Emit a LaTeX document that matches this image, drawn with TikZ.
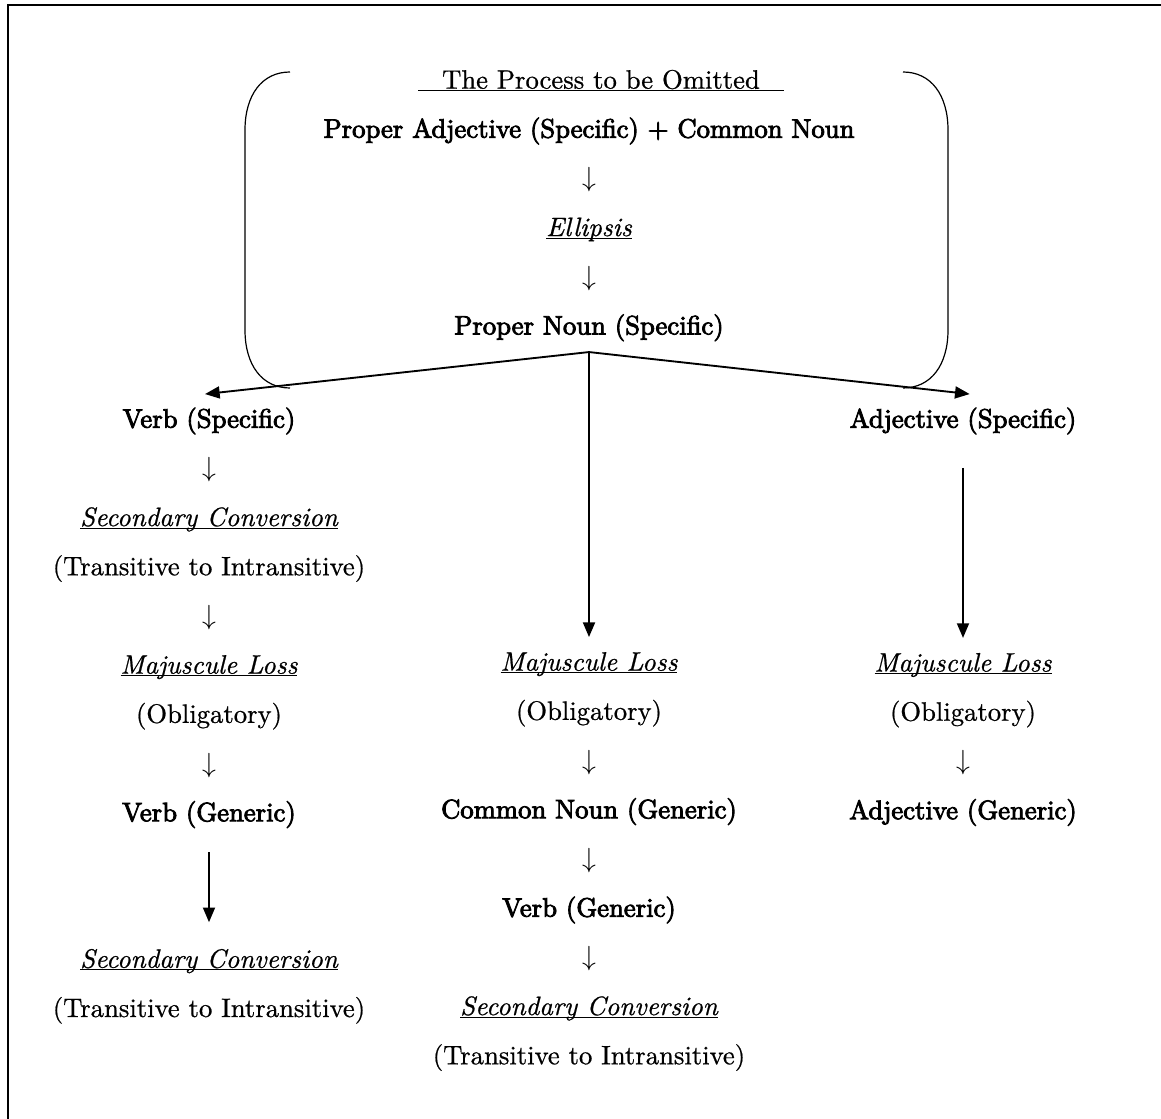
\documentclass[tikz,border=0pt]{standalone}
\usepackage{fontspec}
\usepackage{tikz}
\usetikzlibrary{arrows.meta}
\usetikzlibrary{positioning}
\setmainfont{lmroman10-regular.otf}[ItalicFont=lmroman10-italic.otf, RawFeature={embolden=0.7}]
\newfontface\fakebf{lmroman10-regular.otf}[FakeBold=3.2]
\newcommand{\procline}[1]{\underline{\smash{#1}}}

\begin{document}
\begin{tikzpicture}[x=0.75pt, y=-0.75pt, node distance=16.5pt,
    txt/.style={inner sep=0pt, text height=15pt, text depth=5pt, font=\fontsize{20}{24}\selectfont},
    head/.style={txt, font=\fontsize{20}{24}\selectfont\fakebf},
    proc/.style={txt, font=\fontsize{20}{24}\selectfont\itshape},
    longarrow/.style={line width=1.4pt, -{Triangle[length=11pt, width=9pt]}},
    brace/.style={line width=0.9pt}]
    \useasboundingbox (0,0) rectangle (1161,1119);
    \draw[line width=1.5pt] (8,1119) -- (8,5) -- (1161,5); % frame

    % the omitted process
    \node[txt] (title) at (601,82) {\procline{\hspace{0.9em}The Process to be Omitted\hspace{0.9em}}};
    \node[head] (pa) at (589,131) {Proper Adjective (Specific) + Common Noun};
    \node[txt, below=of pa] (d1) {$\downarrow$};
    \node[proc, below=of d1] (ell) {\procline{Ellipsis}};
    \node[txt, below=of ell] (d2) {$\downarrow$};
    \node[head, below=of d2] (pn) {Proper Noun (Specific)};
    \draw[brace] (290,72) .. controls (262,72) and (245,95) .. (245,130) -- (245,330)
        .. controls (245,365) and (262,388) .. (290,388);
    \draw[brace] (903,72) .. controls (931,72) and (948,95) .. (948,130) -- (948,330)
        .. controls (948,365) and (931,388) .. (903,388);

    % verb branch
    \node[head] (vs) at (209,421) {Verb (Specific)};
    \node[txt, below=of vs] (l1) {$\downarrow$};
    \node[proc, below=of l1] (lsc) {\procline{Secondary Conversion}};
    \node[txt, below=of lsc] (lti) {(Transitive to Intransitive)};
    \node[txt, below=of lti] (l2) {$\downarrow$};
    \node[proc, below=of l2] (lml) {\procline{Majuscule Loss}};
    \node[txt, below=of lml] (lob) {(Obligatory)};
    \node[txt, below=of lob] (l3) {$\downarrow$};
    \node[head, below=of l3] (lvg) {Verb (Generic)};
    \node[proc, below=89.5pt of lvg] (lsc2) {\procline{Secondary Conversion}};
    \node[txt, below=of lsc2] (lti2) {(Transitive to Intransitive)};

    % noun branch
    \node[proc] (mml) at (589,664) {\procline{Majuscule Loss}};
    \node[txt, below=of mml] (mob) {(Obligatory)};
    \node[txt, below=of mob] (m1) {$\downarrow$};
    \node[head, below=of m1] (mcn) {Common Noun (Generic)};
    \node[txt, below=of mcn] (m2) {$\downarrow$};
    \node[head, below=of m2] (mvg) {Verb (Generic)};
    \node[txt, below=of mvg] (m3) {$\downarrow$};
    \node[proc, below=of m3] (msc) {\procline{Secondary Conversion}};
    \node[txt, below=of msc] (mti) {(Transitive to Intransitive)};

    % adjective branch
    \node[head] (as) at (963,421) {Adjective (Specific)};
    \node[proc, below=162.5pt of as] (rml) {\procline{Majuscule Loss}};
    \node[txt, below=of rml] (rob) {(Obligatory)};
    \node[txt, below=of rob] (r1) {$\downarrow$};
    \node[head, below=of r1] (rag) {Adjective (Generic)};

    \coordinate (fork) at ([yshift=-8pt]pn.south);
    \coordinate (vs-in) at ([xshift=-3pt, yshift=10pt]vs.north);
    \coordinate (as-in) at ([xshift=5pt, yshift=10pt]as.north);
    \draw[longarrow] (fork) -- (vs-in);
    \draw[longarrow] (fork) -- (as-in);
    \draw[longarrow, shorten >=10pt] (fork) -- (mml);
    \draw[longarrow, shorten <=25pt, shorten >=10pt] (as) -- (rml);
    \draw[longarrow, shorten <=18pt, shorten >=19pt] (lvg) -- (lsc2);
\end{tikzpicture}
\end{document}
